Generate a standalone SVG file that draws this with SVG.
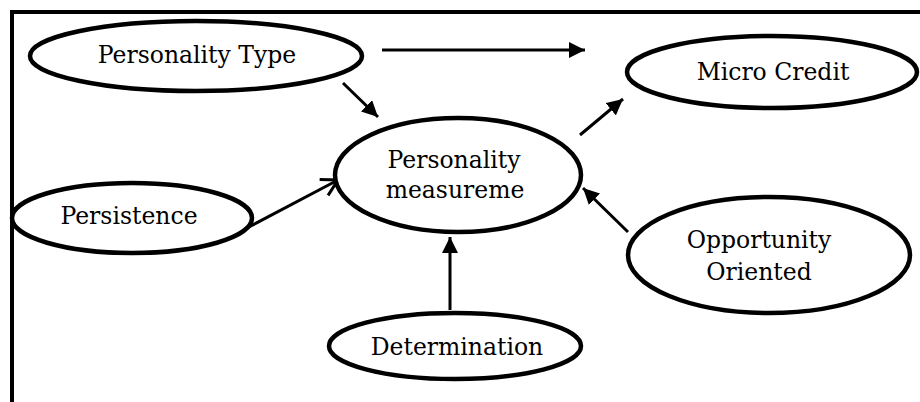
<svg xmlns="http://www.w3.org/2000/svg" width="920" height="402" viewBox="0 0 920 402">
<style>
.n{fill:#fff;stroke:#000;stroke-width:4.5}
.t{font-family:"DejaVu Serif",Georgia,serif;font-size:23.5px;fill:#000;text-anchor:middle}
.c{stroke:#000;stroke-width:3;fill:none}
</style>
<defs>
<marker id="ah" markerUnits="userSpaceOnUse" markerWidth="18" markerHeight="16" refX="16" refY="8" orient="auto">
<path d="M0,0 L16,8 L0,16 Z" fill="#000"/>
</marker>
<marker id="oh" markerUnits="userSpaceOnUse" markerWidth="22" markerHeight="22" refX="18" refY="11" orient="auto">
<path d="M2,2 L18,11 L2,20" fill="none" stroke="#000" stroke-width="3"/>
</marker>
</defs>
<rect width="920" height="402" fill="#fff"/>
<g id="frame">
<path d="M12,402 V12 H920" fill="none" stroke="#000" stroke-width="4"/>
</g>
<g id="connectors">
<line class="c" x1="382" y1="50" x2="585" y2="50" marker-end="url(#ah)"/>
<line class="c" x1="343" y1="83" x2="378" y2="117" marker-end="url(#ah)"/>
<line class="c" x1="247" y1="228" x2="338" y2="180" marker-end="url(#oh)"/>
<line class="c" x1="580" y1="135" x2="623" y2="99" marker-end="url(#ah)"/>
<line class="c" x1="628" y1="232" x2="583" y2="188" marker-end="url(#ah)"/>
<line class="c" x1="450" y1="310" x2="450" y2="237" marker-end="url(#ah)"/>
</g>
<g id="personality-type">
<ellipse class="n" cx="196" cy="56" rx="166" ry="35"/>
<text class="t" x="197" y="63">Personality Type</text>
</g>
<g id="micro-credit">
<ellipse class="n" cx="772" cy="72" rx="145" ry="36"/>
<text class="t" x="773" y="80">Micro Credit</text>
</g>
<g id="personality-measureme">
<ellipse class="n" cx="458" cy="175" rx="123" ry="57"/>
<text class="t" x="454" y="168">Personality</text>
<text class="t" x="455" y="198">measureme</text>
</g>
<g id="persistence">
<ellipse class="n" cx="132" cy="218" rx="120" ry="35"/>
<text class="t" x="129" y="224">Persistence</text>
</g>
<g id="opportunity-oriented">
<ellipse class="n" cx="769" cy="255" rx="141" ry="58"/>
<text class="t" x="759" y="248">Opportunity</text>
<text class="t" x="759" y="280">Oriented</text>
</g>
<g id="determination">
<ellipse class="n" cx="455" cy="346" rx="126" ry="33"/>
<text class="t" x="457" y="355">Determination</text>
</g>
</svg>
